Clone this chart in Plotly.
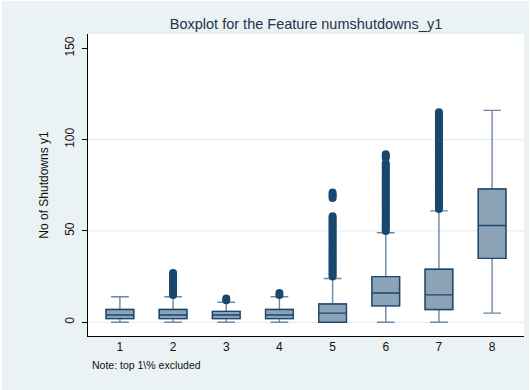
import plotly.graph_objects as go

# ---- data ----
categories = [1, 2, 3, 4, 5, 6, 7, 8]
tick_labels = ["1", "2", "3", "4", "5", "6", "7", "8"]
q1_vals = [2, 2, 2, 2, 0, 9, 7, 35]
median_vals = [4, 4, 4, 4, 5, 16, 15, 53]
q3_vals = [7, 7, 6, 7, 10, 25, 29, 73]
lower_whisker = [0, 0, 0, 0, 0, 0, 0, 5]
upper_whisker = [14, 14, 11, 14, 24, 49, 61, 116]

outliers_1 = []
outliers_2 = [15, 16, 17, 18, 19, 20, 21, 22, 23, 24, 25, 26, 27]
outliers_3 = [12, 13]
outliers_4 = [15, 16]
outliers_5 = [25, 26, 27, 28, 29, 30, 31, 32, 33, 34, 35, 36, 37, 38, 39, 40,
              41, 42, 43, 44, 45, 46, 47, 48, 49, 50, 51, 52, 53, 54, 55, 56,
              57, 58, 68, 69, 70, 71]
outliers_6 = [50, 51, 52, 53, 54, 55, 56, 57, 58, 59, 60, 61, 62, 63, 64, 65,
              66, 67, 68, 69, 70, 71, 72, 73, 74, 75, 76, 77, 78, 79, 80, 81,
              82, 83, 84, 85, 86, 87, 90, 91, 92]
outliers_7 = [62, 63, 64, 65, 66, 67, 68, 69, 70, 71, 72, 73, 74, 75, 76, 77,
              78, 79, 80, 81, 82, 83, 84, 85, 86, 87, 88, 89, 90, 91, 92, 93,
              94, 95, 96, 97, 98, 99, 100, 101, 102, 103, 104, 105, 106, 107,
              108, 109, 110, 111, 112, 113, 114, 115]
outliers_8 = []
outliers = [outliers_1, outliers_2, outliers_3, outliers_4,
            outliers_5, outliers_6, outliers_7, outliers_8]

y_ticks = [0, 50, 100, 150]
grid_values = [0, 50, 100]

title_text = "Boxplot for the Feature numshutdowns_y1"
y_title = "No of Shutdowns y1"
note_text = "Note: top 1\\% excluded"

# ---- styling ----
NAVY = "#1A476F"
FILL = "#8CA3B7"
WHISK = "#6E88A3"
BG = "#EAF2F3"
FONT = "Arial, Liberation Sans, Helvetica, sans-serif"

fig = go.Figure()

# full box incl. whiskers (lighter whisker colour)
fig.add_trace(go.Box(
    x=categories, q1=q1_vals, median=median_vals, q3=q3_vals,
    lowerfence=lower_whisker, upperfence=upper_whisker,
    fillcolor=FILL, line=dict(color=WHISK, width=1.4),
    width=0.52, whiskerwidth=0.64, boxpoints=False, hoverinfo="skip",
))
# box body outline in navy on top
fig.add_trace(go.Box(
    x=categories, q1=q1_vals, median=median_vals, q3=q3_vals,
    lowerfence=q1_vals, upperfence=q3_vals,
    fillcolor=FILL, line=dict(color=NAVY, width=1.4),
    width=0.52, whiskerwidth=0, boxpoints=False, hoverinfo="skip",
))

for cat, vals in zip(categories, outliers):
    if vals:
        fig.add_trace(go.Scatter(
            x=[cat] * len(vals), y=vals, mode="markers",
            marker=dict(color=NAVY, size=8, line=dict(width=0)),
            hoverinfo="skip",
        ))

for v in grid_values:
    fig.add_shape(type="line", xref="paper", x0=0, x1=1, yref="y", y0=v, y1=v,
                  line=dict(color="#E3ECEE", width=1), layer="below")

fig.add_annotation(text=note_text, xref="paper", yref="paper",
                   x=0.005, y=-0.068, xanchor="left", yanchor="top",
                   showarrow=False, font=dict(family=FONT, size=10.5, color="#111111"))

fig.update_layout(
    width=527, height=389,
    margin=dict(l=86, r=5, t=33, b=54, autoexpand=False),
    paper_bgcolor=BG, plot_bgcolor="white",
    showlegend=False, boxmode="overlay",
    font=dict(family=FONT, color="#111111"),
    title=dict(text=title_text, x=0.5, xref="paper", xanchor="center",
               y=1 - 23 / 389, yref="container", yanchor="middle",
               font=dict(family=FONT, size=14.5, color="#26334f")),
    xaxis=dict(range=[0.4, 8.6], tickmode="array", tickvals=categories,
               ticktext=tick_labels, ticks="", showline=True, linecolor="black",
               linewidth=1, showgrid=False, zeroline=False, automargin=False,
               tickfont=dict(size=12, color="#111111")),
    yaxis=dict(range=[-7.5, 157.8], tickmode="array", tickvals=y_ticks,
               ticks="outside", ticklen=5, tickcolor="black", tickwidth=1,
               showline=True, linecolor="black", linewidth=1, automargin=False,
               showgrid=False, zeroline=False, tickangle=-90,
               ticklabelstandoff=3,
               tickfont=dict(size=12, color="#111111"),
               title=dict(text=y_title, standoff=12,
                          font=dict(size=12, color="#111111"))),
)

fig.write_html(
    "out.html",
    post_script="document.body.style.margin='1px 0 0 2px';"
                "document.body.style.background='white';",
)
